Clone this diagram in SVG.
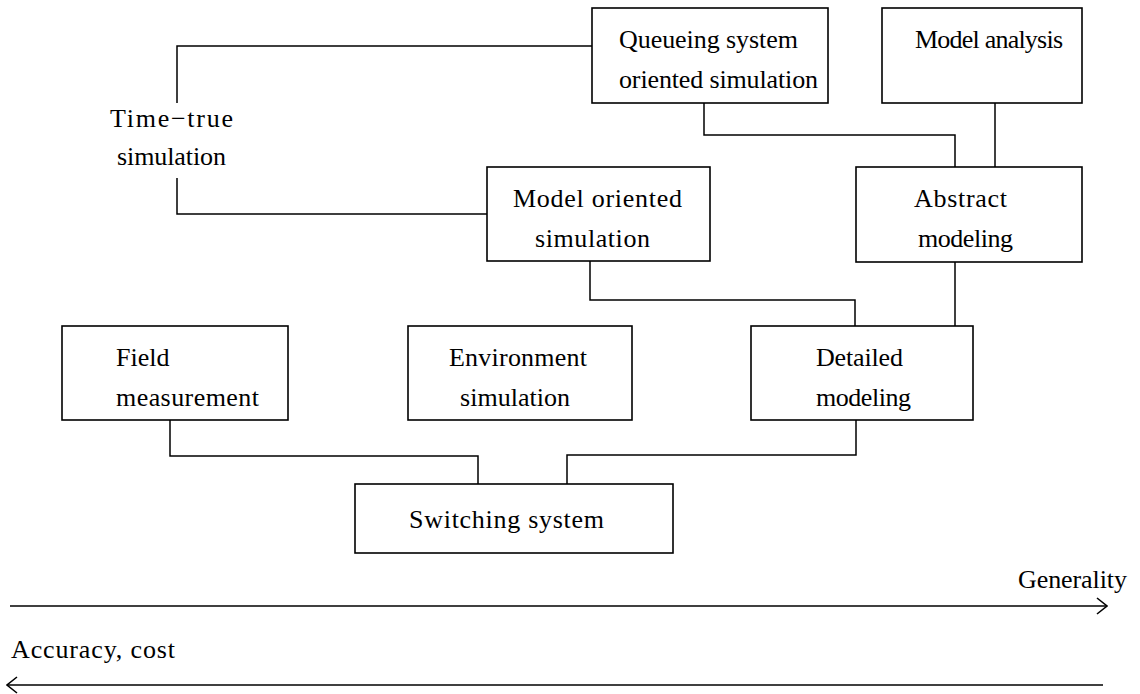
<svg xmlns="http://www.w3.org/2000/svg" width="1140" height="694" viewBox="0 0 1140 694">
  <style>
    .box { fill: #fff; stroke: #000; stroke-width: 1.6; }
    .wire { fill: none; stroke: #000; stroke-width: 1.5; }
    .axis { fill: none; stroke: #000; stroke-width: 1.6; }
    text { font-family: "Liberation Serif", "Times New Roman", serif; font-size: 26px; fill: #000; }
  </style>
  <defs>
    <marker id="chevron" viewBox="0 0 12 18" refX="11" refY="9" markerWidth="12" markerHeight="18" markerUnits="userSpaceOnUse" orient="auto-start-reverse">
      <path d="M1 1 L11 9 L1 17" fill="none" stroke="#000" stroke-width="1.6"/>
    </marker>
  </defs>
  <rect width="1140" height="694" fill="#fff"/>

  <!-- connectors -->
  <g id="connectors">
    <path class="wire" d="M592 46 H177 V103"/>
    <path class="wire" d="M177 178 V214 H487"/>
    <path class="wire" d="M704 103 V135 H955 V167"/>
    <path class="wire" d="M995 103 V167"/>
    <path class="wire" d="M590 261 V300 H855 V326"/>
    <path class="wire" d="M955 262 V326"/>
    <path class="wire" d="M170 420 V456 H478 V484"/>
    <path class="wire" d="M856 420 V455 H567 V484"/>
  </g>

  <!-- bracket label -->
  <g id="time-true">
    <text x="110" y="127" textLength="123">Time−true</text>
    <text x="117" y="165" textLength="109">simulation</text>
  </g>

  <g id="queueing">
    <rect class="box" x="592" y="8" width="236" height="95"/>
    <text x="619" y="48" textLength="179">Queueing system</text>
    <text x="619" y="88" textLength="199">oriented simulation</text>
  </g>

  <g id="model-analysis">
    <rect class="box" x="882" y="8" width="200" height="95"/>
    <text x="915" y="48" textLength="148">Model analysis</text>
  </g>

  <g id="model-oriented">
    <rect class="box" x="487" y="167" width="223" height="94"/>
    <text x="513" y="207" textLength="169">Model oriented</text>
    <text x="535" y="247" textLength="115">simulation</text>
  </g>

  <g id="abstract">
    <rect class="box" x="856" y="167" width="226" height="95"/>
    <text x="914" y="207" textLength="93">Abstract</text>
    <text x="918" y="247" textLength="95">modeling</text>
  </g>

  <g id="field">
    <rect class="box" x="62" y="326" width="226" height="94"/>
    <text x="116" y="366">Field</text>
    <text x="116" y="406" textLength="143">measurement</text>
  </g>

  <g id="environment">
    <rect class="box" x="408" y="326" width="224" height="94"/>
    <text x="449" y="366" textLength="138">Environment</text>
    <text x="460" y="406" textLength="110">simulation</text>
  </g>

  <g id="detailed">
    <rect class="box" x="751" y="326" width="222" height="94"/>
    <text x="816" y="366" textLength="87">Detailed</text>
    <text x="816" y="406" textLength="95">modeling</text>
  </g>

  <g id="switching">
    <rect class="box" x="355" y="484" width="318" height="69"/>
    <text x="409" y="528" textLength="195">Switching system</text>
  </g>

  <!-- axes -->
  <g id="axes">
    <text x="1018" y="588" textLength="109">Generality</text>
    <path class="axis" d="M10 606 H1107" marker-end="url(#chevron)"/>
    <text x="11" y="658" textLength="164">Accuracy, cost</text>
    <path class="axis" d="M7 685 H1103" marker-start="url(#chevron)"/>
  </g>
</svg>
